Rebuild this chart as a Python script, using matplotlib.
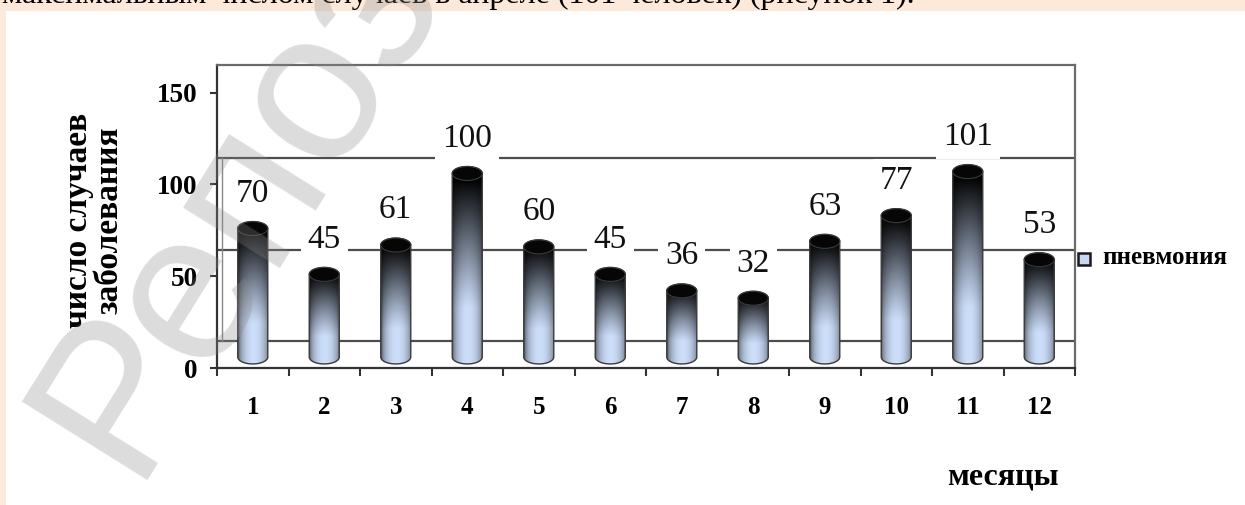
import numpy as np
import matplotlib
matplotlib.use('Agg')
from matplotlib import pyplot
from matplotlib.path import Path
from matplotlib.patches import PathPatch, Ellipse, Rectangle

# DATA
months = ['1', '2', '3', '4', '5', '6', '7', '8', '9', '10', '11', '12']
cases = [70, 45, 61, 100, 60, 45, 36, 32, 63, 77, 101, 53]
yticks = [0, 50, 100, 150]
series_name = 'пневмония'
ylabel = 'число случаев\nзаболевания'
xlabel = 'месяцы'
page_line = 'максимальным числом случаев в апреле (101 человек) (рисунок 1).'
watermark = 'Репозиторий'

SERIF = 'Liberation Serif'
PEACH = '#fde9d9'
GRID = '#4d4d4d'

# depth shift of the 3D back wall and of the bar bases (data units)
WALL = 14.5
BASE = 6.0
CAP = 3.8      # half height of the cylinder caps
BARW = 0.42


def draw_cylinder(ax, xc, y0, y1, w, eh, zorder=3):
	"""cylinder from y0 to y1 centred on xc, shaded with a vertical
	light-blue to black gradient and darker sides"""
	t = np.linspace(np.pi, 2 * np.pi, 60)
	bx = xc + w / 2 * np.cos(t)
	by = y0 + eh * np.sin(t)
	t2 = np.linspace(0, np.pi, 60)
	tx = xc + w / 2 * np.cos(t2)
	ty = y1 + eh * np.sin(t2)
	verts = np.concatenate([np.c_[bx, by], np.c_[tx, ty], [[bx[0], by[0]]]])
	codes = [Path.MOVETO] + [Path.LINETO] * (len(verts) - 2) + [Path.CLOSEPOLY]
	body = PathPatch(Path(verts, codes), facecolor='none', edgecolor='#3a3a3a',
					 lw=1.0, zorder=zorder + 0.2)
	ax.add_patch(body)

	# gradient fill
	ny, nx = 200, 60
	v = np.linspace(0, 1, ny)[:, None]
	u = np.linspace(0, 1, nx)[None, :]
	light = np.array([0.80, 0.87, 0.98])
	fade = np.clip((v - 0.28) / 0.66, 0, 1) ** 1.1
	side = np.sin(np.pi * np.clip(u * 1.04 - 0.03, 0, 1)) ** 0.5
	shade = 0.45 + 0.55 * side
	img = light[None, None, :] * (1 - fade[..., None]) * shade[..., None]
	im = ax.imshow(img, extent=(xc - w / 2, xc + w / 2, y0 - eh, y1 + eh),
				   origin='lower', aspect='auto', zorder=zorder,
				   interpolation='bilinear')
	im.set_clip_path(body)

	# top cap
	top = Ellipse((xc, y1), w, 2 * eh, facecolor='#060606', edgecolor='#3a3a3a',
				  lw=0.8, zorder=zorder + 0.3)
	ax.add_patch(top)


fig = pyplot.figure(figsize=(12.45, 5.05), dpi=100)
fig.patch.set_facecolor('white')

# page background strips
fig.patches.append(Rectangle((0, 1 - 11 / 505), 1, 11 / 505, transform=fig.transFigure,
							 facecolor=PEACH, edgecolor='none', zorder=0))
fig.patches.append(Rectangle((0, 0), 6 / 1245, 1, transform=fig.transFigure,
							 facecolor=PEACH, edgecolor='none', zorder=0))
# last line of the page text above the figure, mostly scrolled off
fig.text(2 / 1245, 1 - 2.5 / 505, page_line, ha='left', va='baseline',
		 fontsize=23, family=SERIF, color='black')

ax = fig.add_axes([217 / 1245, 1 - 368 / 505, (1075 - 217) / 1245, (368 - 65) / 505])
ax.set_facecolor('white')

# back wall gridlines
for g in yticks[:-1]:
	ax.axhline(g + WALL, color=GRID, lw=1.6, zorder=1)
ax.plot([-0.43, -0.43], [WALL, 100 + WALL], color='#888888', lw=1.0, zorder=1)

x = np.arange(len(months))
for i, val in enumerate(cases):
	draw_cylinder(ax, x[i], BASE, BASE + val, BARW, CAP)
	ax.text(x[i], BASE + val + 19, str(val), ha='center', va='center',
			fontsize=24, family=SERIF, color='#111111',
			bbox=dict(facecolor='white', edgecolor='none', pad=5), zorder=6)

ax.set_xlim(-0.5, len(months) - 0.5)
ax.set_ylim(0, 150 + WALL + 0.6)

# axes frame
for side in ['left', 'bottom']:
	ax.spines[side].set_color('#333333')
	ax.spines[side].set_linewidth(1.6)
for side in ['top', 'right']:
	ax.spines[side].set_color('#6a6a6a')
	ax.spines[side].set_linewidth(1.6)

ax.set_yticks(yticks)
ax.set_yticklabels([str(t) for t in yticks], fontsize=19.5, family=SERIF, fontweight='bold')
ax.tick_params(axis='y', length=5, width=1.5, color='#333333', pad=9)

ax.set_xticks(np.arange(-0.5, len(months), 1.0))
ax.set_xticklabels([])
ax.tick_params(axis='x', which='major', length=6, width=1.5, color='#333333')
ax.set_xticks(x, minor=True)
ax.set_xticklabels(months, minor=True, fontsize=18, family=SERIF, fontweight='bold')
ax.tick_params(axis='x', which='minor', length=0, pad=20)

# axis titles
fig.text(94 / 1245, 1 - 220 / 505, ylabel, rotation=90, ha='center', va='center',
		 fontsize=24, family=SERIF, fontweight='bold', linespacing=1.0)
fig.text(1003 / 1245, 1 - 485 / 505, xlabel, ha='center', va='baseline',
		 fontsize=23, family=SERIF, fontweight='bold')

# legend
fig.patches.append(Rectangle((1078 / 1245, 1 - 265 / 505), 12 / 1245, 12 / 505,
							 transform=fig.transFigure, facecolor='#c9d8f2',
							 edgecolor='#1a1a1a', lw=1.8, zorder=3))
fig.text(1102 / 1245, 1 - 258 / 505, series_name, ha='left', va='center',
		 fontsize=18, family=SERIF, fontweight='bold')

# repository watermark over the page
fig.text(130 / 1245, 1 - 480 / 505, watermark, rotation=58, rotation_mode='anchor',
		 ha='left', va='baseline', fontsize=155, family='Liberation Sans',
		 color='#8c8c8c', alpha=0.3, zorder=20)

fig.savefig('out.png', dpi=100)
